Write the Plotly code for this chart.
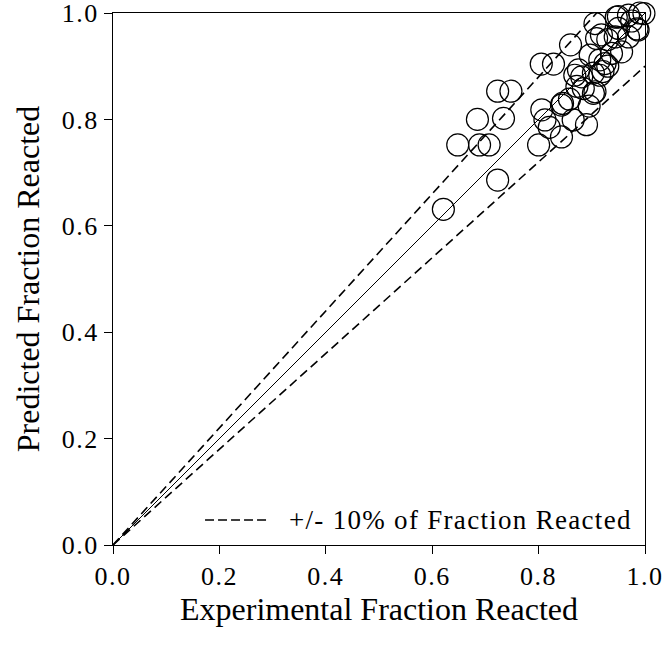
import plotly.graph_objects as go

# Experimental vs predicted fraction reacted
experimental = [0.621, 0.723, 0.648, 0.689, 0.707, 0.685, 0.734, 0.723, 0.748,
                0.805, 0.828, 0.860, 0.906, 0.950, 0.969, 0.990, 0.998, 0.950,
                0.944, 0.969, 0.987, 0.909, 0.930, 0.937, 0.956, 0.915, 0.903,
                0.921, 0.875, 0.881, 0.906, 0.806, 0.843, 0.865, 0.812, 0.800,
                0.843, 0.820, 0.903, 0.884, 0.868, 0.915, 0.890, 0.845, 0.897,
                0.930, 0.918, 0.946, 0.975, 0.985, 0.872, 0.858, 0.895, 0.925]
predicted = [0.631, 0.686, 0.752, 0.752, 0.752, 0.800, 0.802, 0.853, 0.853,
             0.904, 0.904, 0.940, 0.980, 0.993, 0.996, 1.000, 0.999, 0.971,
             0.955, 0.955, 0.968, 0.952, 0.950, 0.924, 0.927, 0.912, 0.887,
             0.890, 0.893, 0.880, 0.852, 0.818, 0.827, 0.799, 0.799, 0.752,
             0.767, 0.785, 0.849, 0.858, 0.883, 0.883, 0.790, 0.830, 0.921,
             0.900, 0.959, 0.992, 0.985, 0.970, 0.862, 0.838, 0.825, 0.905]

tick_vals = [0.0, 0.2, 0.4, 0.6, 0.8, 1.0]
tick_text = ["0.0", "0.2", "0.4", "0.6", "0.8", "1.0"]
legend_label = "+/- 10% of Fraction Reacted"

line_x = [0.0, 1.0]
upper_x = [0.0, 1.0 / 1.1]
serif = "Liberation Serif"


def spaced(text, px):
    """Wrap text in a span with extra letter spacing."""
    return f'<span style="letter-spacing:{px}px">{text}</span>'


fig = go.Figure()
# 1:1 line
fig.add_trace(go.Scatter(x=line_x, y=line_x, mode="lines",
                         line=dict(color="black", width=1), showlegend=False))
# +/- 10% bounds
fig.add_trace(go.Scatter(x=upper_x, y=[v * 1.1 for v in upper_x], mode="lines",
                         line=dict(color="black", width=1.6, dash="9px,5px"),
                         showlegend=False))
fig.add_trace(go.Scatter(x=line_x, y=[v * 0.9 for v in line_x], mode="lines",
                         line=dict(color="black", width=1.6, dash="9px,5px"),
                         showlegend=False))
fig.add_trace(go.Scatter(x=experimental, y=predicted, mode="markers",
                         cliponaxis=False,
                         marker=dict(size=22, color="rgba(255,255,255,0)",
                                     line=dict(color="black", width=1.2)),
                         showlegend=False))

# Legend key
fig.add_shape(type="line", xref="paper", yref="paper",
              x0=0.173, x1=0.295, y0=0.047, y1=0.047,
              line=dict(color="black", width=1.6, dash="9px,4px"))
fig.add_annotation(xref="paper", yref="paper", x=0.327, y=0.047,
                   xanchor="left", yanchor="middle", showarrow=False,
                   text=spaced(legend_label, 1.3),
                   font=dict(family=serif, size=27, color="black"))

axis_common = dict(range=[0, 1], tickvals=tick_vals,
                   ticktext=[spaced(t, 1.5) for t in tick_text],
                   showgrid=False, zeroline=False, showline=True,
                   linecolor="black", linewidth=1.2, mirror=True,
                   ticks="outside", ticklen=8, tickcolor="black",
                   automargin=False, ticklabeloverflow="allow",
                   tickfont=dict(family=serif, size=26, color="black"))

fig.update_layout(
    width=664, height=653,
    margin=dict(l=113, r=19, t=13, b=108),
    paper_bgcolor="white", plot_bgcolor="white",
    xaxis=dict(axis_common,
               title=dict(text="Experimental Fraction Reacted", standoff=2,
                          font=dict(family=serif, size=32, color="black"))),
    yaxis=dict(axis_common,
               title=dict(text="Predicted Fraction Reacted", standoff=12,
                          font=dict(family=serif, size=32, color="black"))),
)

fig.write_html("out.html")
